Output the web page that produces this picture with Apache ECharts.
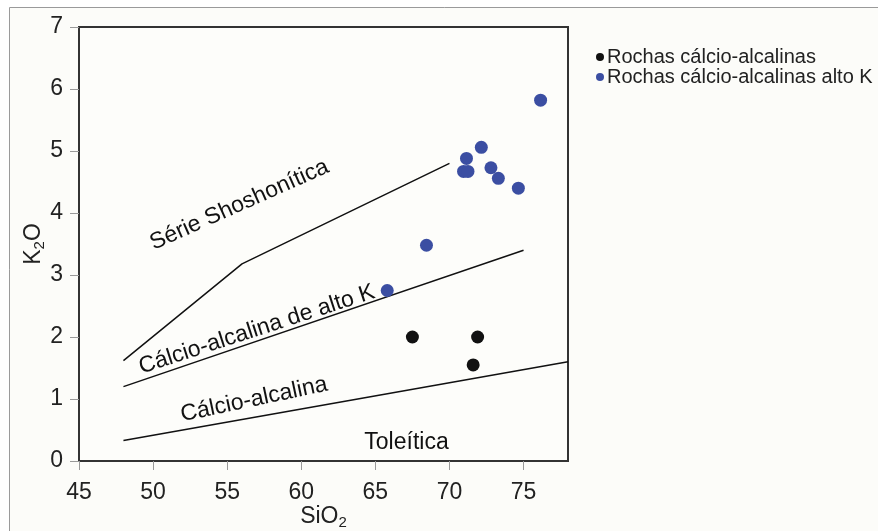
<!DOCTYPE html>
<html>
<head>
<meta charset="utf-8">
<script src="https://cdn.jsdelivr.net/npm/echarts@6/dist/echarts.min.js"></script>
<style>
  html, body { margin: 0; padding: 0; background: #fff; }
  #chart { width: 878px; height: 531px; }
</style>
</head>
<body>
<div id="chart"></div>
<script>
// pontos medidos
var calcAlkSi = [67.5, 71.9, 71.6];
var calcAlkK = [2.0, 2.0, 1.55];
var highKSi = [76.15, 72.15, 71.15, 70.95, 71.25, 72.8, 73.3, 74.65, 68.45, 65.8];
var highKK = [5.82, 5.06, 4.88, 4.67, 4.67, 4.73, 4.56, 4.40, 3.48, 2.75];

// limites (Peccerillo & Taylor)
var shoshSi = [48, 56, 70];
var shoshK = [1.62, 3.18, 4.8];
var highKLineSi = [48, 75];
var highKLineK = [1.2, 3.4];
var calcLineSi = [48, 78];
var calcLineK = [0.33, 1.6];

// nomes dos campos
var fieldNames = ["Série Shoshonítica", "Cálcio-alcalina de alto K", "Cálcio-alcalina", "Toleítica"];
var fieldSi = [55.82, 57.0, 56.82, 67.1];
var fieldK = [4.13, 2.12, 0.99, 0.30];
var fieldAngle = [24, 18, 12, 0];

var xTicks = [45, 50, 55, 60, 65, 70, 75];

var font = "'Liberation Sans', Arial, sans-serif";

function pairs(xs, ys) {
  return xs.map(function (x, i) { return [x, ys[i]]; });
}

function boundary(xs, ys) {
  return {
    type: "line",
    data: pairs(xs, ys),
    symbol: "none",
    silent: true,
    lineStyle: { color: "#111", width: 1.5 },
    z: 2
  };
}

var chart = echarts.init(document.getElementById("chart"));
chart.setOption({
  backgroundColor: "transparent",
  animation: false,
  textStyle: { fontFamily: font },
  graphic: [
    {
      type: "rect",
      shape: { x: 9.5, y: 7.5, width: 880, height: 540 },
      style: { fill: "#fcfcf9", stroke: "#9a9a9a", lineWidth: 1 },
      z: -10
    }
  ],
  legend: {
    orient: "vertical",
    left: 591,
    top: 42,
    itemWidth: 8,
    itemHeight: 8,
    itemGap: 0,
    data: [
      { name: "Rochas cálcio-alcalinas", icon: "circle" },
      { name: "Rochas cálcio-alcalinas alto K", icon: "circle" }
    ],
    textStyle: { fontSize: 20, lineHeight: 20, color: "#222", fontFamily: font, padding: [0, 0, 0, -2] }
  },
  grid: {
    left: 79, top: 27, right: 310, bottom: 70,
    outerBoundsMode: "none",
    containLabel: false,
    show: true,
    backgroundColor: "#fdfdfa",
    borderColor: "#333",
    borderWidth: 2
  },
  xAxis: {
    type: "value",
    min: 45, max: 78,
    interval: 5,
    name: "SiO{sub|2}",
    nameLocation: "middle",
    nameGap: 42,
    nameMoveOverlap: false,
    nameTextStyle: {
      fontSize: 23, color: "#222", fontFamily: font,
      rich: { sub: { fontSize: 15, color: "#222", padding: [12, 0, 0, 0], fontFamily: font } }
    },
    axisLine: { show: false },
    axisTick: { show: true, length: 9, lineStyle: { color: "#999" }, customValues: xTicks },
    axisLabel: { fontSize: 23, color: "#222", margin: 20, customValues: xTicks },
    splitLine: { show: false }
  },
  yAxis: {
    type: "value",
    min: 0, max: 7,
    interval: 1,
    name: "K{sub|2}O",
    nameLocation: "middle",
    nameGap: 32,
    nameMoveOverlap: false,
    nameTextStyle: {
      fontSize: 23, color: "#222", fontFamily: font,
      rich: { sub: { fontSize: 15, color: "#222", padding: [12, 0, 0, 0], fontFamily: font } }
    },
    axisLine: { show: false },
    axisTick: { show: true, length: 9, lineStyle: { color: "#999" } },
    axisLabel: { fontSize: 23, color: "#222", margin: 16 },
    splitLine: { show: false }
  },
  series: [
    boundary(shoshSi, shoshK),
    boundary(highKLineSi, highKLineK),
    boundary(calcLineSi, calcLineK),
    {
      type: "scatter",
      silent: true,
      symbolSize: 0,
      itemStyle: { opacity: 1 },
      data: fieldNames.map(function (n, i) {
        return {
          name: n,
          value: [fieldSi[i], fieldK[i]],
          label: { rotate: fieldAngle[i] }
        };
      }),
      label: {
        show: true,
        position: "inside",
        formatter: "{b}",
        fontSize: 23,
        color: "#111",
        fontFamily: font
      },
      z: 3
    },
    {
      name: "Rochas cálcio-alcalinas",
      type: "scatter",
      data: pairs(calcAlkSi, calcAlkK),
      symbolSize: 13,
      itemStyle: { color: "#111", opacity: 1 },
      z: 5
    },
    {
      name: "Rochas cálcio-alcalinas alto K",
      type: "scatter",
      data: pairs(highKSi, highKK),
      symbolSize: 13,
      itemStyle: { color: "#3b4ea2", opacity: 1 },
      z: 5
    }
  ]
});
</script>
</body>
</html>
